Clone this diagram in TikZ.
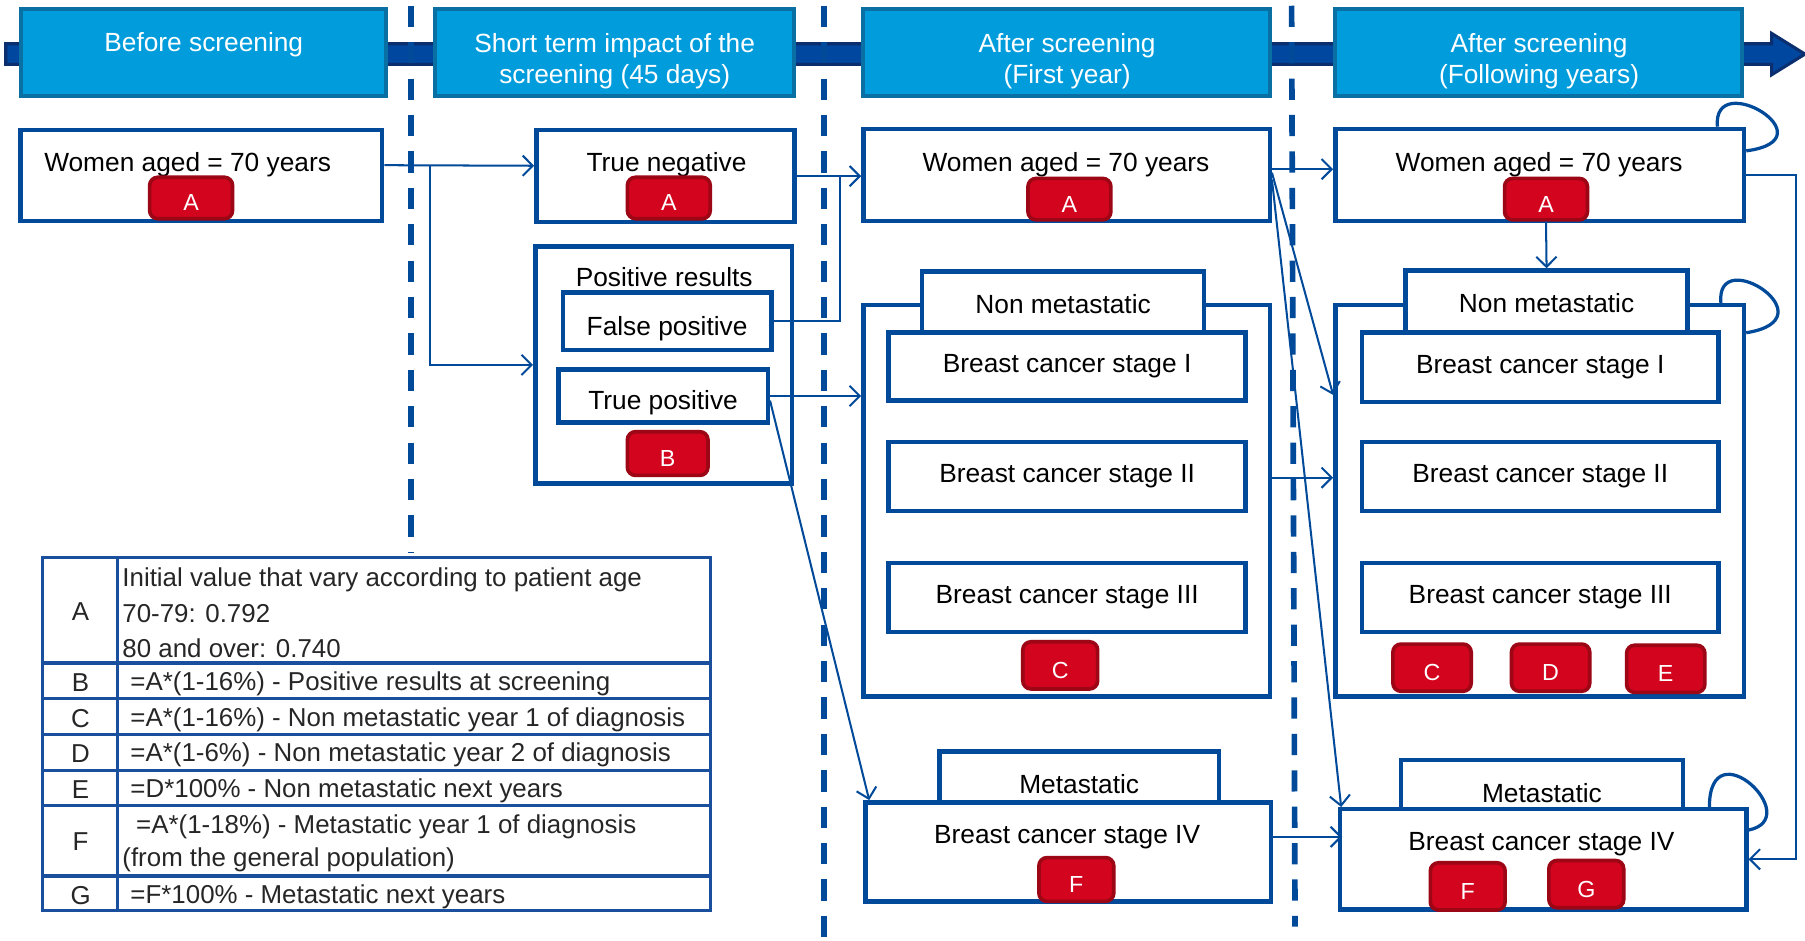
\documentclass[tikz,border=0pt]{standalone}
\usepackage{fontspec}
\setmainfont{Liberation Sans}
\usetikzlibrary{
    positioning,  % For placing nodes relative to each other
    fit,          % For boxes spanned between two corners
    calc,         % For shifted anchors
    arrows.meta   % For the open arrow heads
}
\definecolor{BoxBlue}{HTML}{004A99}
\definecolor{HeadFill}{HTML}{009CDC}
\definecolor{HeadBorder}{HTML}{0A70A3}
\definecolor{BarDark}{HTML}{0A2E6E}
\definecolor{BarMid}{HTML}{0047A0}
\definecolor{BadgeRed}{HTML}{D2041E}
\definecolor{BadgeDark}{HTML}{9C0615}
\definecolor{TableBlue}{HTML}{1A4F9E}
\definecolor{LegText}{HTML}{262626}

\begin{document}
\begin{tikzpicture}[
    % one unit is one pixel of the sketch, y runs downwards
    x=0.02cm, y=-0.02cm,
    % Arial-like text everywhere
    font=\fontsize{13}{15.6}\selectfont,
]
    % --- Define TikZ styles for diagram elements ---
    \tikzset{
        % dark band with arrow head across the top
        timeline/.style={fill=BarMid, draw=BarDark, line width=1.5pt},
        % light blue phase headers
        head/.style={draw=HeadBorder, fill=HeadFill, line width=2pt, inner sep=0pt},
        headtext/.style={text=white, align=center, inner sep=0pt,
            font=\fontsize{13}{15.4}\selectfont},
        % dashed lines between the phases
        phasesep/.style={draw=BoxBlue, line width=2.8pt, dash pattern=on 10.5pt off 7.5pt},
        % white state boxes, text in the middle
        box/.style={draw=BoxBlue, line width=2.2pt, fill=white, inner sep=0pt},
        boxlabel/.style={box, label={[inner sep=0pt]center:#1}},
        lowlabel/.style={box, label={[inner sep=0pt, yshift=-3.5pt]center:#1}},
        txt/.style={inner sep=0pt},
        % red value badges
        badge/.style={
            draw=BadgeDark, fill=BadgeRed, line width=1.8pt,
            rounded corners=4pt, text=white, inner sep=0pt,
            minimum width=1.44cm, minimum height=0.72cm,
            text height=0.45cm, text depth=0pt,
            font=\fontsize{11.5}{13}\selectfont
        },
        smallbadge/.style={badge, minimum width=1.3cm, minimum height=0.82cm},
        % connectors
        link/.style={draw=BoxBlue, line width=1pt},
        arrow/.style={link, -{Straight Barb[length=5pt,width=10pt]}},
        selfloop/.style={draw=BoxBlue, line width=1.6pt},
        % legend table
        legbox/.style={draw=TableBlue, line width=1.6pt, inner sep=0pt},
        legline/.style={draw=TableBlue, line width=1.6pt},
        legkey/.style={inner sep=0pt, text=LegText, font=\fontsize{12.8}{15}\selectfont},
        legtext/.style={legkey, anchor=west},
    }

    \useasboundingbox (0,0) rectangle (1568,817);

    % --- Timeline and phase separators ---
    \coordinate (barL) at (5,47);
    \coordinate (barR) at (1568,47);
    \path[timeline] ($(barL)+(0,-9)$) -- ($(barR)+(-29,-9)$) -- ($(barR)+(-29,-18)$)
        -- (barR) -- ($(barR)+(-29,18)$) -- ($(barR)+(-29,9)$) -- ($(barL)+(0,9)$) -- cycle;

    \draw[phasesep] (357,5) -- (357,480);
    \draw[phasesep] (716,5) -- (716,815);
    \draw[phasesep] (1122,5) -- (1125,805);

    % --- Phase headers ---
    \node[head, fit={(18,8) (335,83)}] (h1) {};
    \node[headtext] (h1t) at (177,39) {Before screening};
    \node[head, fit={(378,8) (690,83)}] (h2) {};
    \node[headtext] (h2t) at (534,53) {Short term impact of the\\screening (45 days)};
    \node[head, fit={(750,8) (1103,83)}] (h3) {};
    \node[headtext] (h3t) at (927,53) {After screening\\(First year)};
    \node[head, fit={(1160,8) (1513,83)}] (h4) {};
    \node[headtext] (h4t) at (1337,53) {After screening\\(Following years)};

    % --- Before screening ---
    \node[box, fit={(18,113) (332,192)}] (w1) {};
    \node[txt] (w1t) at (163,143) {Women aged = 70 years};
    \node[badge] (w1a) at (166,172) {A};

    % --- Short term impact ---
    \node[box, fit={(466,113) (690,193)}] (tn) {};
    \node[txt] (tnt) at (579,143) {True negative};
    \node[badge] (tna) at (581,172) {A};

    \node[box, fit={(465,214) (688,420)}] (pr) {};
    \node[txt] (prt) at (577,241) {Positive results};
    \node[lowlabel=False positive, fit={(489,254) (670,304)}] (fp) {};
    \node[lowlabel=True positive, fit={(485,321) (667,367)}] (tp) {};
    \node[badge, minimum width=1.4cm, minimum height=0.76cm] (prb) at (580,394) {B};

    % --- After screening, first year ---
    \node[box, fit={(750,112) (1103,192)}] (w2) {};
    \node[txt] (w2t) at (926,143) {Women aged = 70 years};
    \node[badge] (w2a) at (929,173) {A};

    \node[box, fit={(750,265) (1103,605)}] (nm1) {};
    \node[boxlabel=Non metastatic, fit={(801,236) (1046,292)}] (nm1t) {};
    \node[boxlabel=Breast cancer stage I, fit={(772,289) (1082,348)}] (s11) {};
    \node[boxlabel=Breast cancer stage II, fit={(772,384) (1082,444)}] (s12) {};
    \node[boxlabel=Breast cancer stage III, fit={(772,489) (1082,549)}] (s13) {};
    \node[smallbadge] (nm1c) at (921,578) {C};

    \node[boxlabel=Metastatic, fit={(816,653) (1059,709)}] (me1t) {};
    \node[box, fit={(752,697) (1104,783)}] (me1) {};
    \node[txt] (me1s) at (927,727) {Breast cancer stage IV};
    \node[smallbadge, minimum height=0.76cm] (me1f) at (935,764) {F};

    % --- After screening, following years ---
    \node[box, fit={(1160,112) (1515,192)}] (w3) {};
    \node[txt] (w3t) at (1337,143) {Women aged = 70 years};
    \node[badge] (w3a) at (1343,173) {A};

    \node[box, fit={(1160,265) (1515,605)}] (nm2) {};
    \node[boxlabel=Non metastatic, fit={(1221,235) (1466,291)}] (nm2t) {};
    \node[boxlabel=Breast cancer stage I, fit={(1183,289) (1493,349)}] (s21) {};
    \node[boxlabel=Breast cancer stage II, fit={(1183,384) (1493,444)}] (s22) {};
    \node[boxlabel=Breast cancer stage III, fit={(1183,489) (1493,549)}] (s23) {};
    \node[smallbadge, minimum width=1.36cm] (nm2c) at (1244,580) {C};
    \node[smallbadge, minimum width=1.36cm] (nm2d) at (1347,580) {D};
    \node[smallbadge, minimum width=1.36cm] (nm2e) at (1447,581) {E};

    \node[boxlabel=Metastatic, fit={(1217,660) (1462,718)}] (me2t) {};
    \node[box, fit={(1164,703) (1517,790)}] (me2) {};
    \node[txt] (me2s) at (1339,733) {Breast cancer stage IV};
    \node[smallbadge] (me2f) at (1275,770) {F};
    \node[smallbadge] (me2g) at (1378,768) {G};

    % --- Connectors ---
    \draw[arrow] ($(w1.east)+(0,-9)$) -- ($(tn.west)+(0,-9)$);
    \draw[arrow] ($(w1.east)+(40,-8)$) |- (pr.west);
    \draw[arrow] (tn.east) -- (tn.east -| w2.west);
    \draw[link] (fp.east) -| ($(tn.east)+(38,0)$);
    \draw[arrow] (tp.east) -- (tp.east -| nm1.west);
    \draw[arrow] ($(tp.east)+(0,4)$) -- ($(me1.north west)+(5,0)$);

    \draw[arrow] ($(w2.east)+(0,-5)$) -- ($(w3.west)+(0,-5)$);
    \draw[arrow] ($(w2.east)+(0,-2)$) -- ($(nm2.north west)+(0,80)$);
    \draw[arrow] ($(w2.east)+(0,4)$) -- ($(me2.north west)+(3,0)$);
    \draw[arrow] ($(nm1.east)+(0,-20)$) -- ($(nm2.west)+(0,-20)$);
    \draw[arrow] ($(me1.east)+(0,-13)$) -- ($(me1.east)+(60,-13)$);

    \draw[arrow] (w3a.south) -- (nm2t.north);
    \draw[arrow] (w3.east) -- ++(43,0) |- (me2.east);

    % self loops on the yearly states
    \draw[selfloop] ($(w3.north east)+(-25,0)$) .. controls +(-5,-52) and +(75,-10) .. ($(w3.north east)+(0,21)$);
    \draw[selfloop] ($(nm2.north east)+(-22,0)$) .. controls +(-5,-52) and +(75,-12) .. ($(nm2.north east)+(0,26)$);
    \draw[selfloop] ($(me2.north east)+(-34,0)$) .. controls +(0,-70) and +(50,-10) .. ($(me2.north east)+(0,20)$);

    % --- Legend table ---
    \node[legbox, fit={(37,484) (617,791)}] (legend) {};
    \draw[legline] (102,484) -- (102,791);
    \draw[legline] (37,576) -- (617,576);
    \draw[legline] (37,607) -- (617,607);
    \draw[legline] (37,638) -- (617,638);
    \draw[legline] (37,669) -- (617,669);
    \draw[legline] (37,700) -- (617,700);
    \draw[legline] (37,761) -- (617,761);

    \node[legkey] (keyA) at (70,531) {A};
    \node[legtext] (legA1) at (106,504) {Initial value that vary according to patient age};
    \node[legtext] (legA2) at (106,533) {70-79: 0.792};
    \node[legtext] (legA3) at (106,563) {80 and over: 0.740};
    \node[legkey] (keyB) at (70,593) {B};
    \node[legtext] (legB) at (113,594) {=A*(1-16\%) - Positive results at screening};
    \node[legkey] (keyC) at (70,624) {C};
    \node[legtext] (legC) at (113,625) {=A*(1-16\%) - Non metastatic year 1 of diagnosis};
    \node[legkey] (keyD) at (70,655) {D};
    \node[legtext] (legD) at (113,656) {=A*(1-6\%) - Non metastatic year 2 of diagnosis};
    \node[legkey] (keyE) at (70,686) {E};
    \node[legtext] (legE) at (113,687) {=D*100\% - Non metastatic next years};
    \node[legkey] (keyF) at (70,731) {F};
    \node[legtext] (legF1) at (118,718) {=A*(1-18\%) - Metastatic year 1 of diagnosis};
    \node[legtext] (legF2) at (106,747) {(from the general population)};
    \node[legkey] (keyG) at (70,778) {G};
    \node[legtext] (legG) at (113,779) {=F*100\% - Metastatic next years};

\end{tikzpicture}
\end{document}
